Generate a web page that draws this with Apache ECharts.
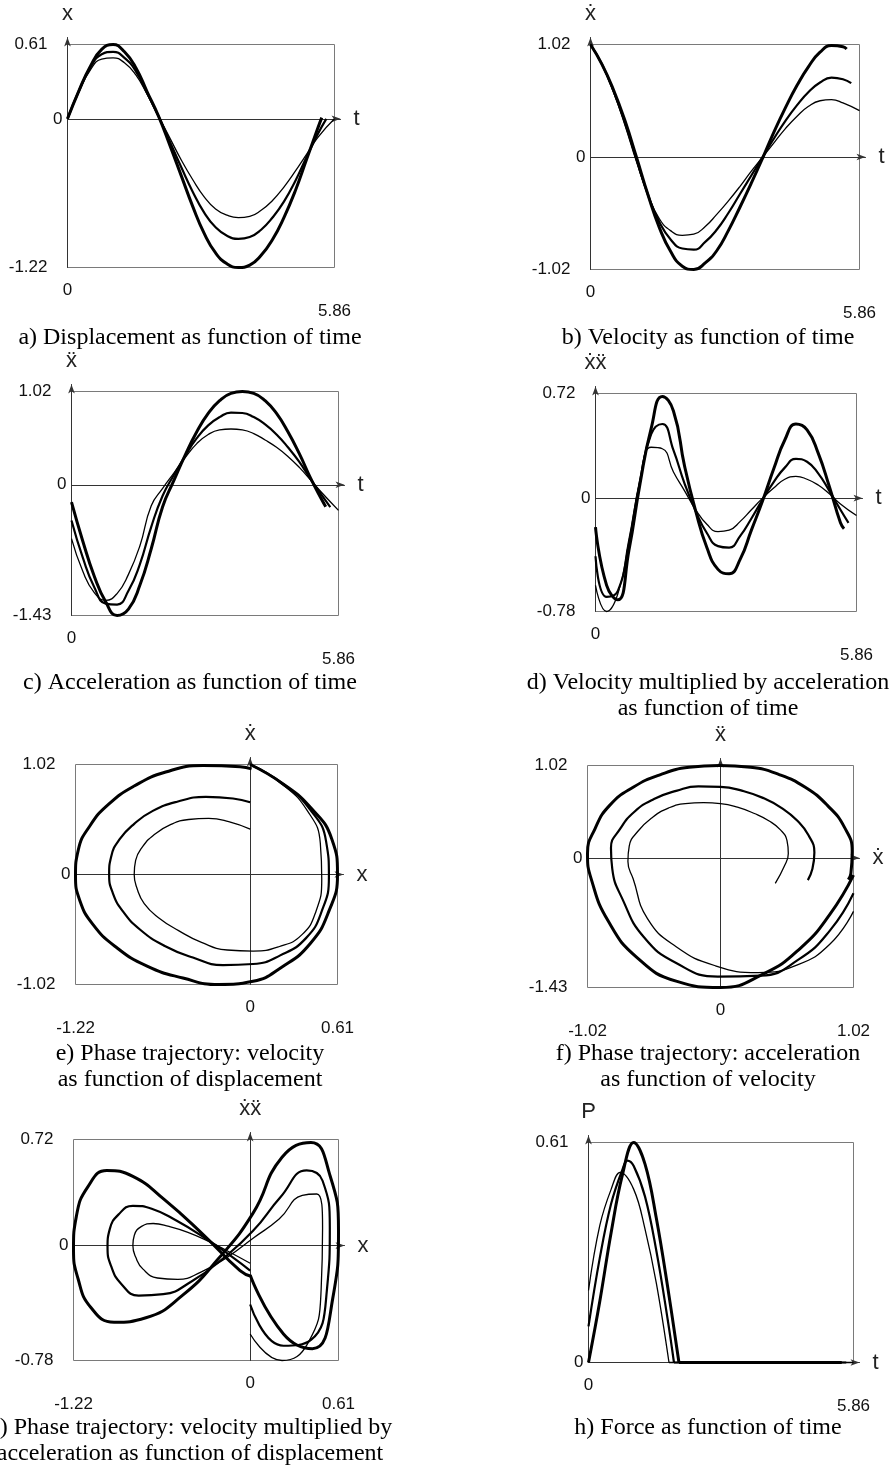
<!DOCTYPE html>
<html><head><meta charset="utf-8">
<script src="https://cdn.jsdelivr.net/npm/echarts@6/dist/echarts.min.js"></script>
<style>html,body{margin:0;padding:0;background:#fff}#chart{width:894px;height:1466px}</style>
</head><body><div id="chart"></div>
<script>
// ---------- data: time samples per curve ----------
const timeThin   = [0,0.25,0.5,0.75,1,1.25,1.5,1.75,2,2.25,2.5,2.75,3,3.25,3.5,3.75,4,4.25,4.5,4.75,5,5.25,5.5,5.86];
const timeMedium = [0,0.25,0.5,0.75,1,1.25,1.5,1.75,2,2.25,2.5,2.75,3,3.25,3.5,3.75,4,4.25,4.5,4.75,5,5.25,5.5,5.68];
const timeThick  = [0,0.25,0.5,0.75,1,1.25,1.5,1.75,2,2.25,2.5,2.75,3,3.25,3.5,3.75,4,4.25,4.5,4.75,5,5.25,5.5,5.58];

// displacement x
const dispThin   = [0,0.22,0.40,0.49,0.50,0.46,0.36,0.20,0.02,-0.16,-0.34,-0.50,-0.64,-0.74,-0.79,-0.81,-0.80,-0.75,-0.67,-0.56,-0.43,-0.29,-0.15,0.0];
const dispMedium = [0,0.23,0.42,0.53,0.55,0.50,0.39,0.21,0.02,-0.19,-0.40,-0.60,-0.77,-0.89,-0.96,-0.985,-0.97,-0.91,-0.81,-0.68,-0.51,-0.31,-0.12,0.0];
const dispThick  = [0,0.23,0.43,0.57,0.61,0.55,0.42,0.22,0.02,-0.22,-0.47,-0.72,-0.94,-1.10,-1.19,-1.22,-1.20,-1.12,-0.99,-0.81,-0.59,-0.33,-0.07,0.01];

// velocity x'
const velThin    = [1.02,0.84,0.59,0.29,-0.04,-0.34,-0.56,-0.67,-0.71,-0.70,-0.63,-0.52,-0.40,-0.27,-0.13,0.0,0.13,0.26,0.37,0.46,0.51,0.52,0.49,0.42];
const velMedium  = [1.02,0.84,0.60,0.31,-0.02,-0.34,-0.59,-0.75,-0.83,-0.84,-0.77,-0.66,-0.51,-0.34,-0.17,0.0,0.17,0.33,0.47,0.59,0.675,0.72,0.705,0.67];
const velThick   = [1.02,0.84,0.61,0.33,0.0,-0.34,-0.64,-0.86,-0.99,-1.02,-0.96,-0.85,-0.67,-0.46,-0.24,-0.01,0.23,0.45,0.65,0.82,0.95,1.01,1.00,0.98];

// acceleration x''
const accThin    = [-0.59,-0.95,-1.18,-1.265,-1.19,-0.98,-0.67,-0.23,-0.04,0.13,0.30,0.45,0.55,0.60,0.61,0.60,0.56,0.49,0.41,0.31,0.19,0.05,-0.09,-0.28];
const accMedium  = [-0.39,-0.80,-1.12,-1.30,-1.31,-1.16,-0.87,-0.46,-0.12,0.11,0.32,0.51,0.65,0.74,0.79,0.785,0.74,0.66,0.55,0.41,0.25,0.06,-0.12,-0.245];
const accThick   = [-0.19,-0.62,-1.00,-1.28,-1.43,-1.36,-1.10,-0.70,-0.24,0.05,0.33,0.58,0.78,0.92,1.00,1.02,1.00,0.92,0.78,0.58,0.34,0.07,-0.17,-0.24];

// velocity * acceleration
const vaThin     = [-0.60,-0.78,-0.66,-0.30,0.12,0.35,0.34,0.18,0.05,-0.08,-0.18,-0.23,-0.22,-0.16,-0.08,0.0,0.07,0.13,0.15,0.13,0.09,0.03,-0.04,-0.12];
const vaMedium   = [-0.40,-0.68,-0.64,-0.30,0.12,0.44,0.51,0.33,0.10,-0.09,-0.24,-0.33,-0.34,-0.26,-0.14,-0.01,0.11,0.21,0.27,0.25,0.17,0.05,-0.08,-0.17];
const vaThick    = [-0.20,-0.60,-0.70,-0.36,0.10,0.48,0.70,0.60,0.22,-0.09,-0.34,-0.49,-0.52,-0.42,-0.22,-0.02,0.20,0.40,0.51,0.47,0.31,0.08,-0.17,-0.21];

// force P
const forceTimeThin   = [0,0.25,0.5,0.7,1.0,1.25,1.5,1.78,5.86];
const forceThin       = [0.20,0.38,0.48,0.527,0.48,0.37,0.22,0,0];
const forceTimeMedium = [0,0.25,0.5,0.75,0.86,1.0,1.25,1.5,1.75,1.89,5.7];
const forceMedium     = [0.10,0.29,0.44,0.535,0.56,0.545,0.46,0.31,0.12,0,0];
const forceTimeThick  = [0,0.25,0.5,0.75,1.0,1.25,1.5,1.75,2.0,5.6];
const forceThick      = [0,0.17,0.36,0.52,0.61,0.55,0.40,0.21,0,0];

// tick labels (axis ranges)
const timeTicks  = [0, 5.86];
const dispTicks  = [-1.22, 0, 0.61];
const velTicks   = [-1.02, 0, 1.02];
const accTicks   = [-1.43, 0, 1.02];
const vaTicks    = [-0.78, 0, 0.72];
const forceTicks = [0, 0.61];

// ---------- layout / style ----------
const curves = [
  {t: timeThin,   x: dispThin,   v: velThin,   a: accThin,   va: vaThin,   ft: forceTimeThin,   f: forceThin,   w: 1.3},
  {t: timeMedium, x: dispMedium, v: velMedium, a: accMedium, va: vaMedium, ft: forceTimeMedium, f: forceMedium, w: 2.2},
  {t: timeThick,  x: dispThick,  v: velThick,  a: accThick,  va: vaThick,  ft: forceTimeThick,  f: forceThick,  w: 3.0}
];
const panels = [
  {box:[67.5,44.5,267,223],   X:'t',  Y:'x',  xr:timeTicks, yr:dispTicks,  xn:'t',  yn:'x'},
  {box:[590.5,44.5,269,225],  X:'t',  Y:'v',  xr:timeTicks, yr:velTicks,   xn:'t',  yn:'\u1E8B'},
  {box:[71.5,391.5,267,224],  X:'t',  Y:'a',  xr:timeTicks, yr:accTicks,   xn:'t',  yn:'\u1E8D'},
  {box:[595.5,393.5,261,218], X:'t',  Y:'va', xr:timeTicks, yr:vaTicks,    xn:'t',  yn:'\u1E8B\u1E8D'},
  {box:[75.5,764.5,262,220],  X:'x',  Y:'v',  xr:dispTicks, yr:velTicks,   xn:'x',  yn:'\u1E8B'},
  {box:[587.5,765.5,266,222], X:'v',  Y:'a',  xr:velTicks,  yr:accTicks,   xn:'\u1E8B', yn:'\u1E8D'},
  {box:[73.5,1139.5,265,221], X:'x',  Y:'va', xr:dispTicks, yr:vaTicks,    xn:'x',  yn:'\u1E8B\u1E8D'},
  {box:[588.5,1142.5,265,220],X:'ft', Y:'f',  xr:timeTicks, yr:forceTicks, xn:'t',  yn:'P'}
];
const captions = [
  {x:190, y:325, text:'a) Displacement as function of time'},
  {x:708, y:325, text:'b) Velocity as function of time'},
  {x:190, y:670, text:'c) Acceleration as function of time'},
  {x:708, y:670, text:'d) Velocity multiplied by acceleration\nas function of time'},
  {x:190, y:1041, text:'e) Phase trajectory: velocity\nas function of displacement'},
  {x:708, y:1041, text:'f) Phase trajectory: acceleration\nas function of velocity'},
  {x:190, y:1415, text:'g) Phase trajectory: velocity multiplied by\nacceleration as function of displacement'},
  {x:708, y:1415, text:'h) Force as function of time'}
];
const EX = 6, EY = 7;
const SANS = 'Liberation Sans, Arial, sans-serif';
const tickFont = {fontFamily: SANS, fontSize: 17, color: '#111'};
const nameFont = {fontFamily: SANS, fontSize: 22, color: '#222'};
const fmt = v => String(Math.round(v * 100) / 100);

function labelX(g, min, max, vals, margin) {
  return {gridIndex: g, type: 'value', min, max, position: 'bottom',
    axisLine: {show: false, onZero: false}, axisTick: {show: false}, splitLine: {show: false},
    axisLabel: Object.assign({customValues: vals, margin, formatter: fmt, showMinLabel: true, showMaxLabel: true}, tickFont)};
}
function labelY(g, min, max, vals, margin) {
  return {gridIndex: g, type: 'value', min, max, position: 'left',
    axisLine: {show: false, onZero: false}, axisTick: {show: false}, splitLine: {show: false},
    axisLabel: Object.assign({customValues: vals, margin, formatter: fmt, showMinLabel: true, showMaxLabel: true}, tickFont)};
}
function arrowAxis(g, min, max, name, gap) {
  return {gridIndex: g, type: 'value', min, max,
    axisLine: {show: true, onZero: true, symbol: ['none', 'arrow'], symbolSize: [5, 9],
      lineStyle: {color: '#333', width: 1}},
    axisTick: {show: false}, axisLabel: {show: false}, splitLine: {show: false},
    name, nameLocation: 'end', nameGap: gap, nameTextStyle: nameFont};
}

const grid = [], xAxis = [], yAxis = [], series = [];
panels.forEach(p => {
  const [L, T, Wd, H] = p.box;
  const xmin = Math.min(...p.xr), xmax = Math.max(...p.xr);
  const ymin = Math.min(...p.yr), ymax = Math.max(...p.yr);
  const gBox = grid.length;
  grid.push({left: L, top: T, width: Wd, height: H, show: true, borderColor: '#7a7a7a', borderWidth: 1,
    backgroundColor: 'transparent', containLabel: false, outerBoundsMode: 'none'});
  const gArr = grid.length;
  grid.push({left: L, top: T - EY, width: Wd + EX, height: H + EY, show: false, containLabel: false, outerBoundsMode: 'none'});
  const xi = xAxis.length, yi = yAxis.length;
  xAxis.push(labelX(gBox, xmin, xmax, p.xr.filter(v => v === 0), 14));
  xAxis.push(labelX(gBox, xmin, xmax, p.xr.filter(v => v !== 0), 35));
  yAxis.push(labelY(gBox, ymin, ymax, p.yr.filter(v => v !== 0), 20));
  yAxis.push(labelY(gBox, ymin, ymax, p.yr.filter(v => v === 0), 5));
  xAxis.push(arrowAxis(gArr, xmin, xmax + EX * (xmax - xmin) / Wd, p.xn, 13));
  yAxis.push(arrowAxis(gArr, ymin, ymax + EY * (ymax - ymin) / H, p.yn, 13));
  curves.forEach(c => {
    const xs = c[p.X], ys = c[p.Y];
    const pts = xs.map((v, k) => [v, ys[k]]);
    const base = {type: 'line', xAxisIndex: xi, yAxisIndex: yi, symbol: 'none', clip: false, silent: true,
      lineStyle: {color: '#000', width: c.w}, z: 3};
    if (p.Y === 'f') {
      let k = ys.length - 1;
      while (k > 0 && ys[k - 1] === 0) k--;
      series.push(Object.assign({}, base, {data: pts.slice(0, k + 1), smooth: 0.4}));
      series.push(Object.assign({}, base, {data: pts.slice(k), smooth: false}));
    } else {
      series.push(Object.assign({}, base, {data: pts, smooth: 0.5}));
    }
  });
});

const title = captions.map(c => ({text: c.text, left: c.x, top: c.y, textAlign: 'center', textVerticalAlign: 'top',
  padding: 0, textStyle: {fontFamily: 'Liberation Serif, Times New Roman, serif', fontSize: 24, fontWeight: 'normal',
  color: '#000', lineHeight: 26}}));

const chart = echarts.init(document.getElementById('chart'), null, {renderer: 'canvas'});
chart.setOption({animation: false, backgroundColor: '#fff', title, grid, xAxis, yAxis, series});
</script></body></html>
